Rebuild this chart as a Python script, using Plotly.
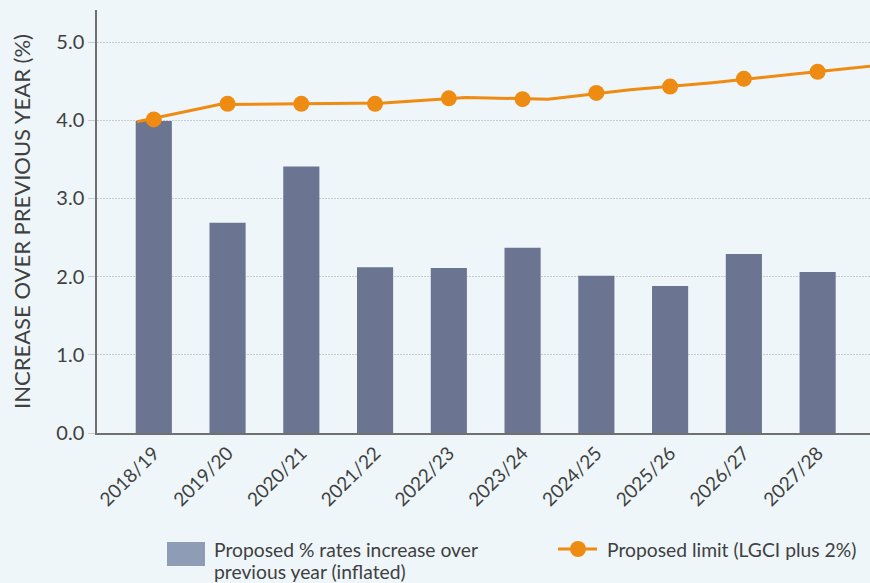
import plotly.graph_objects as go

categories = ["2018/19", "2019/20", "2020/21", "2021/22", "2022/23",
              "2023/24", "2024/25", "2025/26", "2026/27", "2027/28"]
rates_increase = [3.99, 2.69, 3.41, 2.12, 2.11, 2.37, 2.01, 1.88, 2.29, 2.06]
limit_markers = [4.01, 4.21, 4.21, 4.21, 4.28, 4.27, 4.35, 4.43, 4.53, 4.62]
limit_line = [3.98, 4.20, 4.21, 4.22, 4.29, 4.27, 4.39, 4.48, 4.59, 4.70]
y_ticks = [0, 1, 2, 3, 4, 5]
bar_legend_lines = ["Proposed % rates increase over", "previous year (inflated)"]

BG = "#eef6f9"
BAR = "#6b7592"
SWATCH = "#8e9db5"
ORANGE = "#ee8b12"
TXT = "#404040"
AX = "#707070"
GRID = "#cbcbcb"
FONT = "Lato"

W, H = 870, 583
ML, MR, MT, MB = 97, 0, 10, 150
PW, PH = W - ML - MR, H - MT - MB


def px(x):
    return (x - ML) / PW


def py(y):
    return (H - MB - y) / PH


fig = go.Figure()
fig.add_trace(go.Bar(x=categories, y=rates_increase, marker_color=BAR,
                     marker_line_width=0, width=0.49, showlegend=False,
                     name="Proposed % rates increase over previous year (inflated)"))
fig.add_trace(go.Scatter(x=list(range(len(limit_line))), y=limit_line, xaxis="x2",
                         mode="lines", line=dict(color=ORANGE, width=3),
                         showlegend=False, hoverinfo="skip"))
fig.add_trace(go.Scatter(x=categories, y=limit_markers, mode="markers",
                         marker=dict(color=ORANGE, size=16),
                         showlegend=False, name="Proposed limit (LGCI plus 2%)"))

fig.update_layout(
    width=W, height=H,
    margin=dict(l=ML, r=MR, t=MT, b=MB),
    paper_bgcolor=BG, plot_bgcolor=BG,
    font=dict(family=FONT, color=TXT, size=19),
    bargap=0.5,
    xaxis=dict(type="category", range=[-0.77, 9.71], showline=True, linecolor=AX,
               linewidth=1.5, ticks="", tickangle=-45, tickfont=dict(size=19, color=TXT),
               showgrid=False, zeroline=False),
    xaxis2=dict(overlaying="x", range=[-0.487, 8.917], visible=False),
    xaxis3=dict(overlaying="x", range=[-0.77, 9.71], tickvals=[i + 0.5 for i in range(9)],
                ticks="outside", ticklen=8, tickwidth=1.5, tickcolor=AX,
                showticklabels=False, showgrid=False, showline=False, zeroline=False,
                side="bottom", anchor="y"),
    yaxis=dict(range=[0, 5.41], tickvals=y_ticks, tickformat=".1f",
               showline=True, linecolor=AX, linewidth=1.5,
               ticks="outside", ticklen=7, tickcolor=GRID,
               gridcolor=GRID, griddash="2px,1px", gridwidth=1, zeroline=False,
               tickfont=dict(size=20, color=TXT),
               title=dict(text="INCREASE OVER PREVIOUS YEAR (%)",
                          font=dict(size=22, color=TXT), standoff=20)),
)

# legend drawn in paper coordinates
fig.add_shape(type="rect", xref="paper", yref="paper",
              x0=px(167), x1=px(205), y0=py(566), y1=py(542),
              fillcolor=SWATCH, line_width=0)
for line_text, yc in zip(bar_legend_lines, [549, 571]):
    fig.add_annotation(xref="paper", yref="paper", x=px(212), y=py(yc),
                       xanchor="left", yanchor="middle", align="left", showarrow=False,
                       text=line_text, font=dict(size=19.3, color=TXT))
fig.add_shape(type="line", xref="paper", yref="paper",
              x0=px(558), x1=px(597), y0=py(549), y1=py(549),
              line=dict(color=ORANGE, width=3))
fig.add_shape(type="circle", xref="paper", yref="paper",
              x0=px(570), x1=px(586), y0=py(557), y1=py(541),
              fillcolor=ORANGE, line_width=0)
fig.add_annotation(xref="paper", yref="paper", x=px(605), y=py(549),
                   xanchor="left", yanchor="middle", showarrow=False,
                   text="Proposed limit (LGCI plus 2%)",
                   font=dict(size=19.3, color=TXT))

fig.write_html("out.html")
